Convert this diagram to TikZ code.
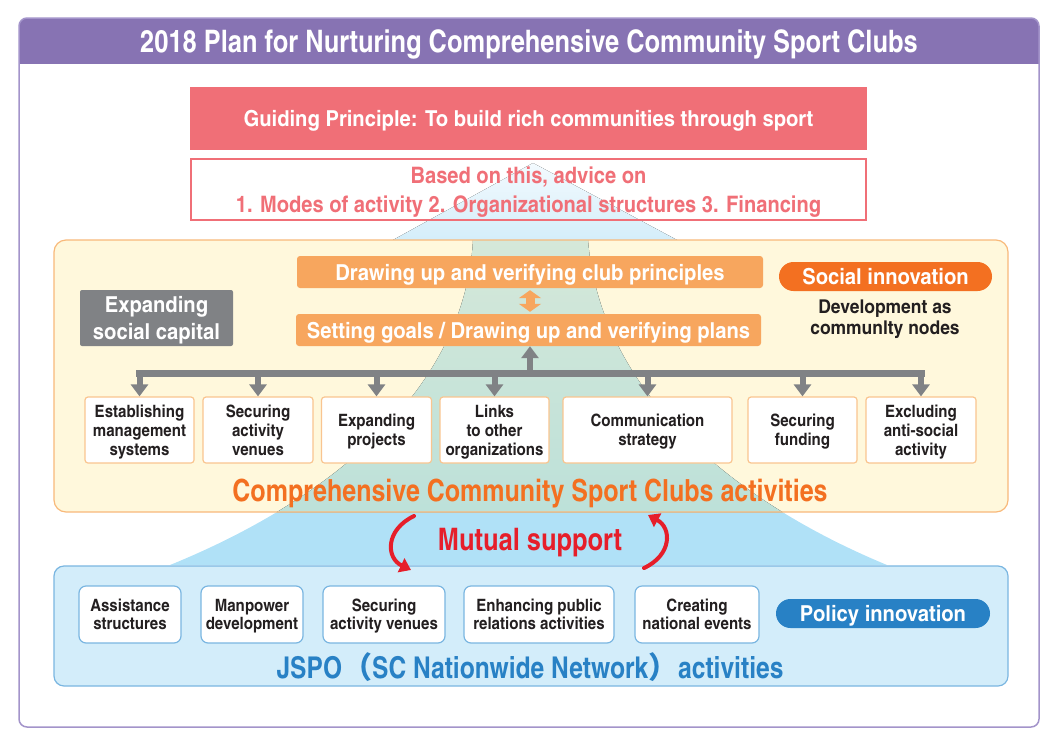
\documentclass[tikz,border=0pt]{standalone}
\usepackage{fontspec}
\setmainfont{texgyreheroscn}[Extension=.otf,UprightFont=*-regular,BoldFont=*-bold]
\newfontfamily\widefont{texgyreheroscn}[Extension=.otf,UprightFont=*-bold,FakeStretch=1.12]
\newfontfamily\midfont{texgyreheroscn}[Extension=.otf,UprightFont=*-bold,FakeStretch=1.08]
\newfontfamily\cjk{Noto Sans CJK JP}
\usetikzlibrary{arrows.meta,calc}

\definecolor{titlepurple}{HTML}{8773B3}
\definecolor{framepurple}{HTML}{A394CA}
\definecolor{guidered}{HTML}{F06F77}
\definecolor{planorange}{HTML}{F7A65E}
\definecolor{innoorange}{HTML}{F37021}
\definecolor{busgray}{HTML}{808285}
\definecolor{clubyellow}{HTML}{FFF8DC}
\definecolor{clubborder}{HTML}{F8B97A}
\definecolor{actborder}{HTML}{F9C590}
\definecolor{roadtealtop}{HTML}{D5E8D9}
\definecolor{roadteal}{HTML}{B8DFD9}
\definecolor{roadblue}{HTML}{B0E1F7}
\definecolor{jspofill}{HTML}{D3EDFA}
\definecolor{jspoborder}{HTML}{7AB6E1}
\definecolor{policyblue}{HTML}{2881C5}
\definecolor{mutualred}{HTML}{E61E2A}
\definecolor{inkblack}{HTML}{231F20}
\definecolor{peaktop}{HTML}{F3FAFE}
\definecolor{peakbottom}{HTML}{CDEBF9}

% font size macros: plain, wide and mid stretched
\newcommand{\fs}[2]{\bfseries\fontsize{#1}{#2}\selectfont}
\newcommand{\fw}[2]{\widefont\fontsize{#1}{#2}\selectfont}
\newcommand{\fm}[2]{\midfont\fontsize{#1}{#2}\selectfont}

\tikzset{
  planbox/.style={fill=planorange, text=white, font=\fw{22}{26}, minimum height=32, inner sep=0, text depth=0pt, rounded corners=3},
  actbox/.style={draw=actborder, fill=white, line width=1.2, rounded corners=3, minimum height=66, inner sep=0, text depth=-4pt, align=center, text=inkblack, font=\fm{17}{19}},
  jspobox/.style={draw=jspoborder, fill=white, line width=1.2, rounded corners=7, minimum height=57, inner sep=0, text depth=0pt, align=center, text=inkblack, font=\fm{17}{18}},
  pill/.style={rounded corners=14.5, minimum height=29, inner sep=0, text depth=0pt, text=white, font=\fw{22}{26}},
  bus/.style={draw=busgray, line width=7},
  busarrow/.style={draw=busgray, line width=6, -{Triangle[width=17pt,length=12pt]}},
  mutual/.style={draw=mutualred, line width=4, line cap=round, -{Triangle[width=15pt,length=11pt]}},
}

\begin{document}
\begin{tikzpicture}[x=1pt,y=-1pt]
\useasboundingbox (0,0) rectangle (1059,744);

% frame and title
\begin{scope}
  \clip[rounded corners=8] (19,18) rectangle (1039,727);
  \fill[titlepurple] (19,18) rectangle (1039,64);
\end{scope}
\draw[framepurple, line width=1.5, rounded corners=8] (19,18) rectangle (1039,727);
\node[text=white, font=\fs{31}{36}, text depth=0pt] (title) at (529,41) {2018 Plan for Nurturing Comprehensive Community Sport Clubs};

% mountain and road
\fill[top color=peaktop, bottom color=peakbottom] (533,163) -- (393,240) -- (360,258) -- (706,258) -- (677,240) -- cycle;
\fill[roadblue] (473,241) .. controls (465,390) and (330,500) .. (170,565) -- (887,565) .. controls (730,500) and (600,390) .. (588,241) -- cycle;

% clubs area
\fill[clubyellow, rounded corners=12] (54,240) rectangle (1008,512);
\begin{scope}
  \clip[rounded corners=12] (54,240) rectangle (1008,512);
  \fill[top color=roadtealtop, bottom color=roadteal] (473,240) .. controls (465,390) and (330,500) .. (170,565) -- (887,565) .. controls (730,500) and (600,390) .. (588,240) -- cycle;
\end{scope}
\draw[clubborder, line width=1.2, rounded corners=12] (54,240) rectangle (1008,512);

% JSPO area
\draw[jspoborder, fill=jspofill, line width=1.2, rounded corners=10] (54,566) rectangle (1008,686);

% guiding principle
\node[fill=guidered, text=white, font=\fw{22}{26}, text depth=0pt, minimum width=677, minimum height=63, inner sep=0] (guide) at (528.5,118.5) {Guiding Principle: To build rich communities through sport};
\node[draw=guidered, line width=1.2, minimum width=675, minimum height=61, inner sep=0] (advice) at (528.5,189.5) {};
\node[text=guidered, font=\fm{22.7}{29}, align=center, text depth=0pt] (advicetext) at (advice.center) {Based on this, advice on\\1. Modes of activity 2. Organizational structures 3. Financing};

% club principles and plans
\node[planbox, minimum width=466] (principles) at (530,272) {Drawing up and verifying club principles};
\node[planbox, minimum width=465] (plans) at (528.5,330) {Setting goals / Drawing up and verifying plans};
\draw[planorange, line width=9, {Triangle[width=22pt,length=8pt]}-{Triangle[width=22pt,length=8pt]}, shorten <=2, shorten >=2] (principles.south) -- (principles.south |- plans.north);

\node[fill=busgray, text=white, font=\fw{22}{27}, align=center, minimum width=153, minimum height=56, inner sep=0, text depth=0pt, rounded corners=2] (capital) at (156.5,318) {Expanding\\social capital};

\node[pill, fill=innoorange, minimum width=213] (social) at (885.5,276.5) {Social innovation};
\node[text=inkblack, font=\fw{19}{21}, align=center, text depth=0pt] (nodes) at (885,317.5) {Development as\\communlty nodes};

% activities
\node[actbox, minimum width=109] (est) at (139.5,430) {Establishing\\management\\systems};
\node[actbox, minimum width=110] (venue) at (258,430) {Securing\\activity\\venues};
\node[actbox, minimum width=110] (proj) at (376.5,430) {Expanding\\projects};
\node[actbox, minimum width=109] (links) at (494.5,430) {Links\\to other\\organizations};
\node[actbox, minimum width=169] (comm) at (647.5,430) {Communication\\strategy};
\node[actbox, minimum width=109] (fund) at (802.5,430) {Securing\\funding};
\node[actbox, minimum width=110] (excl) at (921,430) {Excluding\\anti-social\\activity};

\coordinate (busL) at (139.5,373.5);
\coordinate (busR) at (921,373.5);
\draw[bus, line cap=rect] (busL) -- (busR);
\foreach \n in {est,venue,proj,links,comm,fund,excl}
  \draw[busarrow] (\n.north |- busL) -- (\n.north);
\draw[busarrow] (principles.south |- busL) -- (principles.south |- plans.south);

\node[text=innoorange, font=\fs{30.5}{34}, text depth=0pt] (clubs) at (530,490) {Comprehensive Community Sport Clubs activities};

% mutual support
\node[text=mutualred, font=\fs{31}{34}, text depth=0pt] (support) at (530,539) {Mutual support};
\coordinate (downA) at (414,516);
\coordinate (downB) at (411,570);
\coordinate (upA) at (644,568);
\coordinate (upB) at (648,515);
\draw[mutual] (downA) .. controls (385,530) and (386,558) .. (downB);
\draw[mutual] (upA) .. controls (672,555) and (672,528) .. (upB);

% JSPO activities
\node[jspobox, minimum width=102] (assist) at (130,614.5) {Assistance\\structures};
\node[jspobox, minimum width=102] (manpower) at (252,614.5) {Manpower\\development};
\node[jspobox, minimum width=122] (venues) at (384,614.5) {Securing\\activity venues};
\node[jspobox, minimum width=150] (relations) at (539,614.5) {Enhancing public\\relations activities};
\node[jspobox, minimum width=124] (events) at (697,614.5) {Creating\\national events};
\node[pill, fill=policyblue, minimum width=214] (policy) at (883,613.5) {Policy innovation};
\node[text=policyblue, font=\fs{30}{34}, text depth=0pt] (jspo) at (530,666) {JSPO{\cjk （}SC Nationwide Network{\cjk ）}activities};
\end{tikzpicture}
\end{document}
